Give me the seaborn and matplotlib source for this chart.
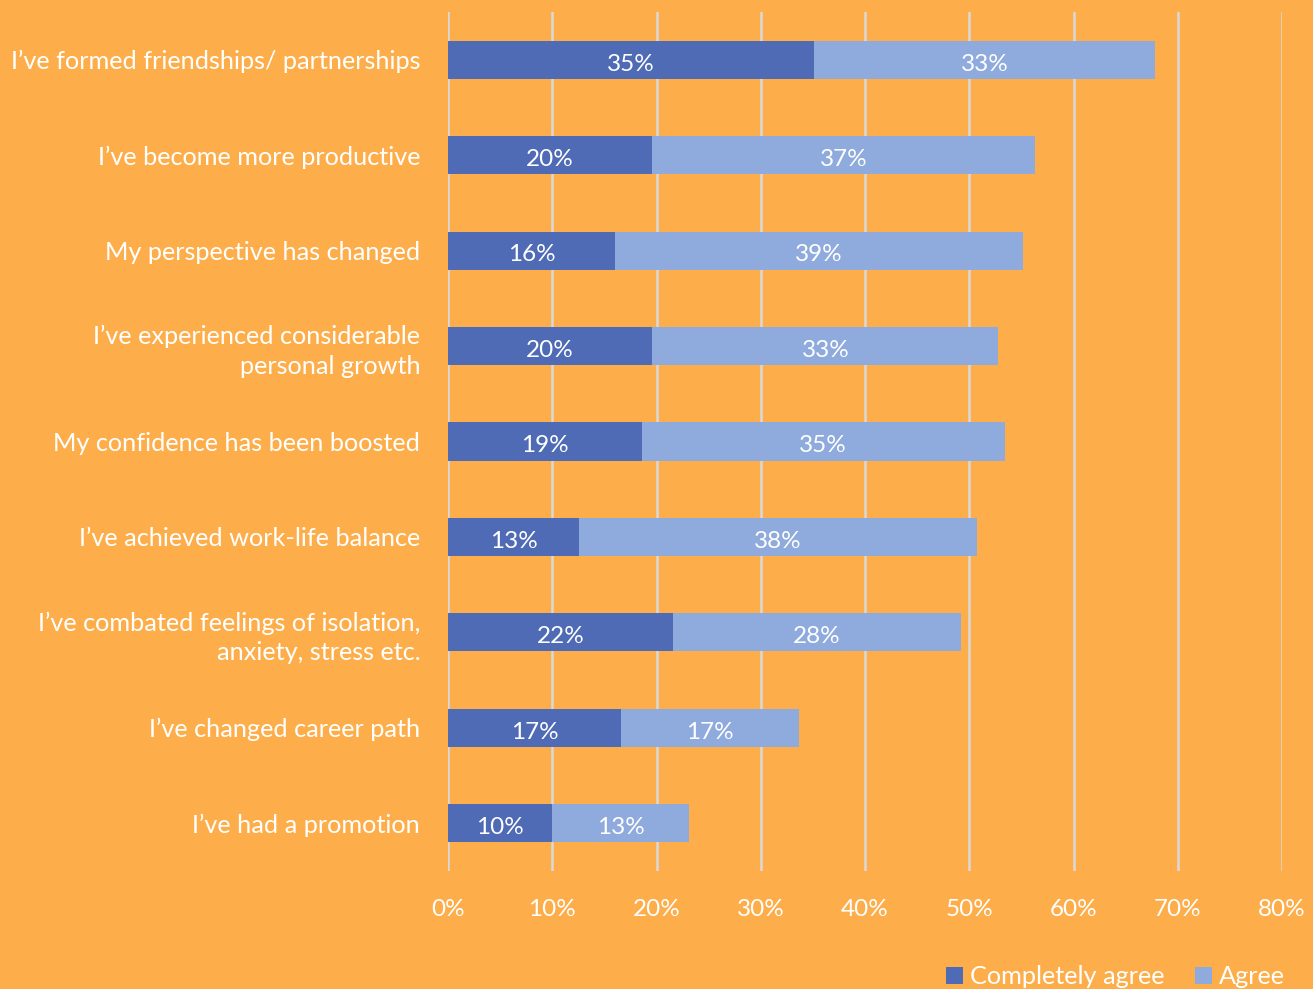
import matplotlib
matplotlib.use("Agg")
import matplotlib.pyplot as plt
import seaborn as sns
import pandas as pd
from matplotlib.patches import Patch

categories = [
    "I\u2019ve formed friendships/ partnerships",
    "I\u2019ve become more productive",
    "My perspective has changed",
    "I\u2019ve experienced considerable\npersonal growth",
    "My confidence has been boosted",
    "I\u2019ve achieved work-life balance",
    "I\u2019ve combated feelings of isolation,\nanxiety, stress etc.",
    "I\u2019ve changed career path",
    "I\u2019ve had a promotion",
]
completely_agree = [35.1, 19.6, 16.0, 19.6, 18.6, 12.6, 21.6, 16.6, 10.0]
agree = [32.7, 36.7, 39.2, 33.2, 34.8, 38.1, 27.6, 17.1, 13.1]
series_names = ["Completely agree", "Agree"]
x_ticks = [0, 10, 20, 30, 40, 50, 60, 70, 80]

BG = "#FDAE4A"
DARK = "#4F6BB5"
LIGHT = "#8FAADC"
GRID = "#D9D9D9"

sns.set_theme(style="white")
plt.rcParams["font.family"] = ["Lato", "DejaVu Sans"]

df = pd.DataFrame({"category": categories,
                   "Completely agree": completely_agree,
                   "Agree": agree})
df["total"] = df["Completely agree"] + df["Agree"]

fig = plt.figure(figsize=(13.13, 9.89), dpi=100, facecolor=BG)
ax = fig.add_axes([448 / 1313, 1 - 871 / 989, (1282 - 448) / 1313, (871 - 12) / 989])
ax.set_facecolor(BG)

# stacked bars: draw the totals first, then the first segment on top
sns.barplot(data=df, y="category", x="total", color=LIGHT, orient="h",
            width=0.4, ax=ax, saturation=1, order=categories,
            edgecolor="none", linewidth=0)
sns.barplot(data=df, y="category", x="Completely agree", color=DARK, orient="h",
            width=0.4, ax=ax, saturation=1, order=categories,
            edgecolor="none", linewidth=0)

for i, (c, a) in enumerate(zip(completely_agree, agree)):
    ax.text(c / 2, i + 0.045, f"{round(c):.0f}%", ha="center", va="center",
            color="white", fontsize=17.5)
    ax.text(c + a / 2, i + 0.045, f"{round(a):.0f}%", ha="center", va="center",
            color="white", fontsize=17.5)

ax.set_xlim(0, 80)
ax.set_ylim(8.5, -0.5)
ax.set_xticks(x_ticks)
ax.set_xticklabels([f"{t}%" for t in x_ticks], color="white", fontsize=17.5)
ax.tick_params(axis="x", length=0, pad=20)
ax.tick_params(axis="y", length=0, pad=20)
ax.set_yticks(range(len(categories)))
ax.set_yticklabels(categories, color="white", fontsize=18.2, ha="right",
                   linespacing=1.35)
ax.set_xlabel("")
ax.set_ylabel("")
ax.grid(axis="x", color=GRID, linewidth=1.8)
ax.set_axisbelow(True)
for s in ax.spines.values():
    s.set_visible(False)

handles = [Patch(facecolor=DARK, edgecolor="none", label=series_names[0]),
           Patch(facecolor=LIGHT, edgecolor="none", label=series_names[1])]
leg = fig.legend(handles=handles, loc="lower right", ncol=2, frameon=False,
                 bbox_to_anchor=(1308 / 1313, -0.022), fontsize=18.2,
                 handlelength=0.65, handleheight=0.65, handletextpad=0.3,
                 columnspacing=1.2, labelcolor="white")

fig.savefig("out.png", dpi=100, facecolor=BG)
